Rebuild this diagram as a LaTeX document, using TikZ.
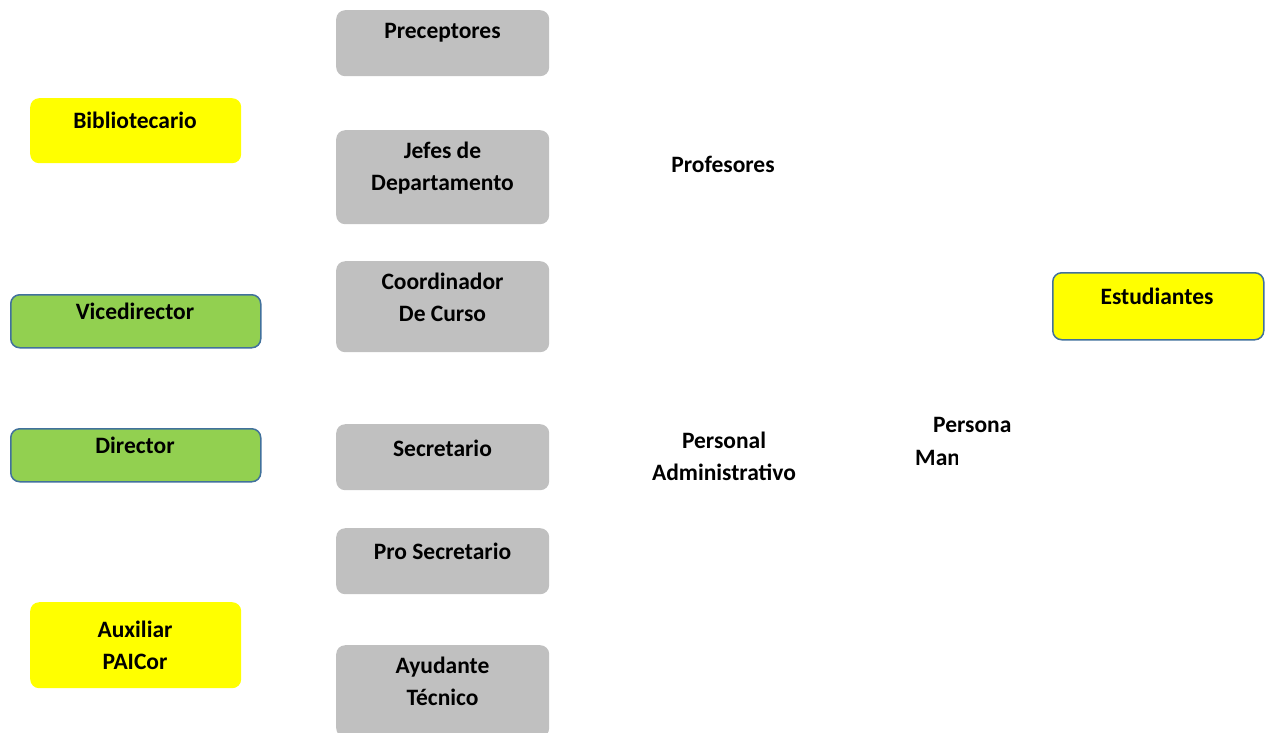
\documentclass[tikz,border=0pt]{standalone}
\usepackage{fontspec}
\setmainfont{Carlito}
\definecolor{boxgray}{HTML}{C0C0C0}
\definecolor{boxyellow}{HTML}{FFFF00}
\definecolor{boxgreen}{HTML}{92D050}
\definecolor{boxborder}{HTML}{41719C}
\begin{document}
\begin{tikzpicture}[x=1pt,y=-1pt,
  base/.style={rectangle, rounded corners=9pt, inner sep=0pt, anchor=north west},
  graybox/.style={base, fill=boxgray, minimum width=213pt},
  yellowbox/.style={base, fill=boxyellow, minimum width=211pt},
  greenbox/.style={base, fill=boxgreen, draw=boxborder, line width=1.5pt, minimum width=250pt, minimum height=53pt},
  lbl/.style={font=\fontsize{23.5}{32}\selectfont\bfseries, align=center, inner sep=0pt, text=black}
]
\useasboundingbox (0,0) rectangle (1268,732);
\fill[white] (0,0) rectangle (1268,732);

% gray column
\node[graybox, minimum height=66pt] (prec) at (336,10) {};
\node[lbl] (precT) at (442.5,33) {Preceptores};
\node[graybox, minimum height=94pt] (jefes) at (336,130) {};
\node[lbl] (jefesT) at (442.5,168) {Jefes de\\Departamento};
\node[graybox, minimum height=91pt] (coord) at (336,261) {};
\node[lbl] (coordT) at (442.5,297) {Coordinador\\De Curso};
\node[graybox, minimum height=66pt] (secr) at (336,424) {};
\node[lbl] (secrT) at (442.5,448) {Secretario};
\node[graybox, minimum height=66pt] (prosecr) at (336,528) {};
\node[lbl] (prosecrT) at (442.5,551) {Pro Secretario};
\node[graybox, minimum height=92pt] (ayud) at (336,645) {};
\node[lbl] (ayudT) at (442.5,681) {Ayudante\\Técnico};

% left column
\node[yellowbox, minimum height=65pt] (bibl) at (30,98) {};
\node[lbl] (biblT) at (135,120) {Bibliotecario};
\node[greenbox] (vice) at (10,294) {};
\node[lbl] (viceT) at (135,311) {Vicedirector};
\node[greenbox] (dir) at (10,428) {};
\node[lbl] (dirT) at (135,445) {Director};
\node[yellowbox, minimum height=86pt] (aux) at (30,602) {};
\node[lbl] (auxT) at (135,645) {Auxiliar\\PAICor};

% right
\node[base, fill=boxyellow, draw=boxborder, line width=1.5pt, minimum width=211pt, minimum height=67pt] (est) at (1052,272) {};
\node[lbl] (estT) at (1157,296) {Estudiantes};

\node[lbl] (prof) at (723,164) {Profesores};
\node[lbl] (padm) at (724,456) {Personal\\Administrativo};

\begin{scope}
\clip (900,405) -- (1011,405) -- (1011,440) -- (957,440) -- (957,480) -- (900,480) -- cycle;
\node[lbl, anchor=west] (pman1) at (933,424) {Personal};
\node[lbl, anchor=west] (pman2) at (915,457) {Mantenimiento};
\end{scope}
\end{tikzpicture}
\end{document}
